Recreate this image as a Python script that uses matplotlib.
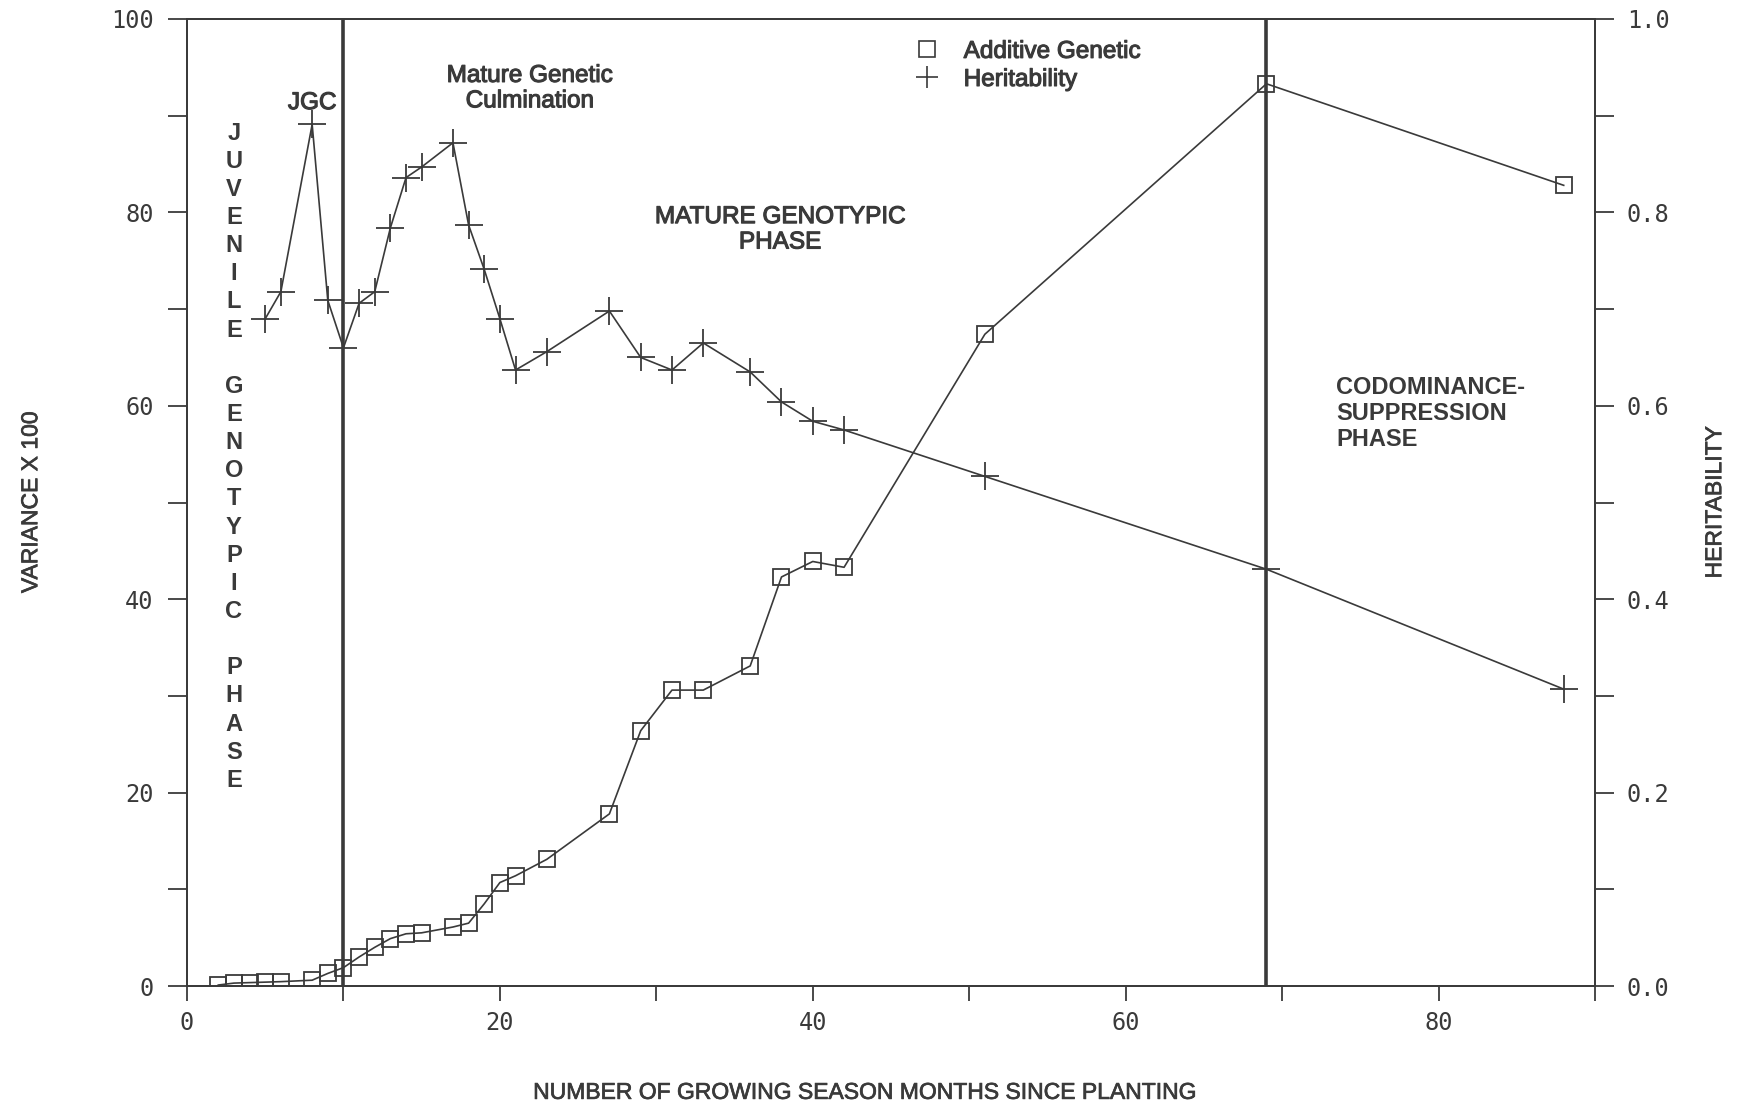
import matplotlib
matplotlib.use("Agg")
import matplotlib.pyplot as plt
from matplotlib.lines import Line2D
import matplotlib.patheffects as pe
from matplotlib import font_manager

# ---------- data ----------
add_months = [2, 3, 4, 5, 6, 8, 9, 10, 11, 12, 13, 14, 15, 17, 18, 19, 20, 21, 23, 27,
              29, 31, 33, 36, 38, 40, 42, 51, 69, 88]
add_var = [0.1, 0.3, 0.35, 0.4, 0.45, 0.6, 1.3, 1.9, 3.0, 4.0, 4.9, 5.4, 5.5, 6.1, 6.5, 8.5,
           10.7, 11.4, 13.1, 17.8, 26.4, 30.6, 30.6, 33.1, 42.3, 43.9, 43.3, 67.4, 93.3, 82.8]

her_months = [5, 6, 8, 9, 10, 11, 12, 13, 14, 15, 17, 18, 19, 20, 21, 23, 27, 29, 31, 33,
              36, 38, 40, 42, 51, 69, 88]
her_val = [0.690, 0.718, 0.891, 0.709, 0.660, 0.706, 0.718, 0.784, 0.836, 0.847, 0.872,
           0.787, 0.741, 0.690, 0.637, 0.656, 0.698, 0.650, 0.637, 0.665, 0.635, 0.604,
           0.584, 0.575, 0.527, 0.431, 0.307]

phase_bounds = [10, 69]
phase_text = "JUVENILE GENOTYPIC PHASE"

INK = "#3a3a3a"
avail = {f.name for f in font_manager.fontManager.ttflist}
NARROW = ["Liberation Sans Narrow", "Liberation Sans"] if "Liberation Sans Narrow" in avail else ["Liberation Sans"]
SANS = ["Liberation Sans", "DejaVu Sans"]
MONO = ["DejaVu Sans Mono"]
BOLDISH = [pe.withStroke(linewidth=0.8, foreground=INK)]
SEMI = [pe.withStroke(linewidth=0.5, foreground=INK)]

plt.rcParams.update({"axes.edgecolor": INK, "xtick.color": INK, "ytick.color": INK,
                     "text.color": INK, "axes.linewidth": 1.3})

fig = plt.figure(figsize=(17.43, 11.06), dpi=100)
ax = fig.add_axes([187/1743, 1-986/1106, 1408/1743, 967/1106])
ax2 = ax.twinx()

ax.plot(add_months, add_var, color=INK, lw=1.2, marker="s", ms=12, mfc="none",
        mec=INK, mew=1.3, zorder=3)
ax2.plot(her_months, her_val, color=INK, lw=1.2, marker="+", ms=20, mew=1.3, zorder=3)
for xb in phase_bounds:
    ax.vlines(xb, 0, 100, color=INK, lw=2.6, zorder=4)

ax.set_xlim(0, 90); ax.set_ylim(0, 100)
ax2.set_ylim(0, 1)
ax.set_xticks(range(0, 91, 10))
ax.set_xticklabels(["0", "", "20", "", "40", "", "60", "", "80", ""])
ax.set_yticks(range(0, 101, 10))
ax.set_yticklabels([str(v) if v % 20 == 0 else "" for v in range(0, 101, 10)])
ax2.set_yticks([i/10 for i in range(11)])
ax2.set_yticklabels([f"{i/10:.1f}" if i % 2 == 0 else "" for i in range(11)])
ax.tick_params(axis="y", length=14, width=1.3, pad=10, labelsize=17)
ax.tick_params(axis="x", length=11, width=1.3, pad=7, labelsize=17)
ax2.tick_params(axis="y", length=14, width=1.3, pad=9, labelsize=17)
for lab in ax.get_xticklabels() + ax.get_yticklabels() + ax2.get_yticklabels():
    lab.set_family(MONO)

# axis labels
lab_kw = dict(fontsize=16.5, family=NARROW, path_effects=SEMI)
ax.text(-0.111, 0.5, "VARIANCE X 100", transform=ax.transAxes, rotation=90,
        ha="center", va="center", **lab_kw)
ax.text(1.085, 0.5, "HERITABILITY", transform=ax.transAxes, rotation=90,
        ha="center", va="center", **lab_kw)
ax.text(0.481, -0.110, "NUMBER OF GROWING SEASON MONTHS SINCE PLANTING",
        transform=ax.transAxes, ha="center", va="center", **lab_kw)

# annotations
txt_kw = dict(fontsize=17.5, family=SANS, path_effects=BOLDISH, linespacing=1.2)
ax.text(8.0, 91.3, "JGC", ha="center", va="center", **txt_kw)
ax.text(21.9, 92.8, "Mature Genetic\nCulmination", ha="center", va="center", **txt_kw)
ax.text(37.9, 78.2, "MATURE GENOTYPIC\nPHASE", ha="center", va="center", **txt_kw)
ax.text(73.45, 59.2, "CODOMINANCE-\nSUPPRESSION\nPHASE", ha="left", va="center",
        fontsize=17, family=SANS, fontweight="bold", linespacing=1.15)
for i, ch in enumerate(phase_text):
    ax.text(3.0, 88.2 - i*2.91, ch, ha="center", va="center", fontsize=17,
            family=SANS, fontweight="bold")

handles = [Line2D([], [], ls="none", marker="s", ms=11, mfc="none", mec=INK, mew=1.2),
           Line2D([], [], ls="none", marker="+", ms=16, mec=INK, mew=1.2)]
leg = ax2.legend(handles, ["Additive Genetic", "Heritability"], loc="upper left",
                 bbox_to_anchor=(0.505, 0.995), frameon=False, handlelength=1.0,
                 handletextpad=1.0, labelspacing=0.25, borderaxespad=0.3,
                 prop={"family": SANS, "size": 17.5})
for t in leg.get_texts():
    t.set_path_effects(BOLDISH)

fig.savefig("out.png", dpi=100, facecolor="white")
